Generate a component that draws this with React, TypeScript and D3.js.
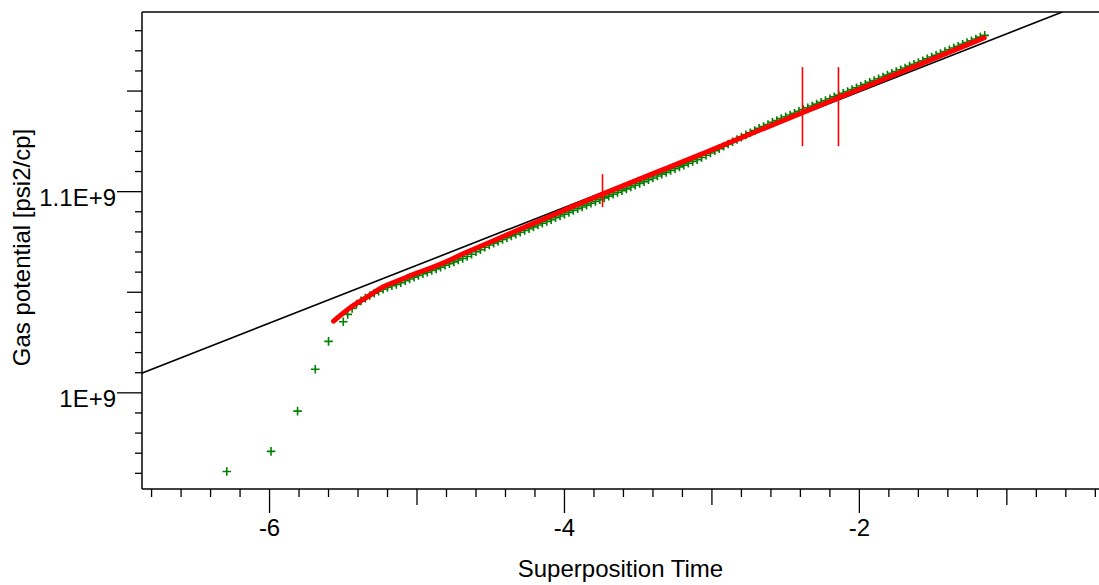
import React from "react";
import * as d3 from "d3";

// ---- data ----
const sparseX = [-6.29, -5.99, -5.81, -5.69, -5.6];
const sparseY = [0.9609, 0.9709, 0.9909, 1.0117, 1.0256];

const denseX = [
  -5.5, -5.47, -5.44, -5.41, -5.38, -5.35, -5.32, -5.29, -5.26, -5.23,
  -5.2, -5.17, -5.14, -5.11, -5.08, -5.05, -5.02, -4.99, -4.96, -4.93,
  -4.9, -4.87, -4.84, -4.81, -4.78, -4.75, -4.72, -4.69, -4.66, -4.63,
  -4.6, -4.57, -4.54, -4.51, -4.48, -4.45, -4.42, -4.39, -4.36, -4.33,
  -4.3, -4.27, -4.24, -4.21, -4.18, -4.15, -4.12, -4.09, -4.06, -4.03,
  -4.0, -3.97, -3.94, -3.91, -3.88, -3.85, -3.82, -3.79, -3.76, -3.73,
  -3.7, -3.67, -3.64, -3.61, -3.58, -3.55, -3.52, -3.49, -3.46, -3.43,
  -3.4, -3.37, -3.34, -3.31, -3.28, -3.25, -3.22, -3.19, -3.16, -3.13,
  -3.1, -3.07, -3.04, -3.01, -2.98, -2.95, -2.92, -2.89, -2.86, -2.83,
  -2.8, -2.77, -2.74, -2.71, -2.68, -2.65, -2.62, -2.59, -2.56, -2.53,
  -2.5, -2.47, -2.44, -2.41, -2.38, -2.35, -2.32, -2.29, -2.26, -2.23,
  -2.2, -2.17, -2.14, -2.11, -2.08, -2.05, -2.02, -1.99, -1.96, -1.93,
  -1.9, -1.87, -1.84, -1.81, -1.78, -1.75, -1.72, -1.69, -1.66, -1.63,
  -1.6, -1.57, -1.54, -1.51, -1.48, -1.45, -1.42, -1.39, -1.36, -1.33,
  -1.3, -1.27, -1.24, -1.21, -1.18, -1.15,
];
const denseY = [
  1.0353, 1.039, 1.0419, 1.0441, 1.0457, 1.0471, 1.0484, 1.0495, 1.0505, 1.0515,
  1.0524, 1.0532, 1.0539, 1.0547, 1.0557, 1.0566, 1.0575, 1.0583, 1.0592, 1.06,
  1.0608, 1.0616, 1.0625, 1.0634, 1.0642, 1.0651, 1.066, 1.0668, 1.0678, 1.0689,
  1.0701, 1.0712, 1.0724, 1.0735, 1.0744, 1.0753, 1.0762, 1.0771, 1.078, 1.0789,
  1.0798, 1.0807, 1.0816, 1.0825, 1.0834, 1.0843, 1.0852, 1.0861, 1.087, 1.0879,
  1.0888, 1.0897, 1.0906, 1.0915, 1.0924, 1.0933, 1.0942, 1.0951, 1.096, 1.0969,
  1.0978, 1.0987, 1.0996, 1.1005, 1.1014, 1.1023, 1.1032, 1.1041, 1.105, 1.1059,
  1.1068, 1.1078, 1.1087, 1.1096, 1.1105, 1.1114, 1.1123, 1.1132, 1.1141, 1.115,
  1.1159, 1.117, 1.1181, 1.1192, 1.1203, 1.1214, 1.1226, 1.1237, 1.1248, 1.1259,
  1.1271, 1.1282, 1.1293, 1.1304, 1.1315, 1.1324, 1.1334, 1.1345, 1.1354, 1.1363,
  1.1372, 1.1381, 1.139, 1.1399, 1.1408, 1.1417, 1.1426, 1.1435, 1.1444, 1.1453,
  1.1462, 1.1471, 1.148, 1.1489, 1.1498, 1.1507, 1.1516, 1.1525, 1.1534, 1.1543,
  1.1552, 1.1561, 1.157, 1.1579, 1.1588, 1.1597, 1.1606, 1.1615, 1.1624, 1.1633,
  1.1642, 1.1651, 1.166, 1.1669, 1.1678, 1.1687, 1.1696, 1.1705, 1.1714, 1.1723,
  1.1732, 1.1741, 1.175, 1.1759, 1.1768, 1.1777,
];

const fitX = [-5.566, -5.458, -5.342, -5.234, -5.119, -5.003, -4.895, -4.78, -4.664, -4.529, -4.034, -3.017, -1.864, -1.153];
const fitY = [1.0356, 1.042, 1.0475, 1.0525, 1.056, 1.0595, 1.0624, 1.0659, 1.0699, 1.0741, 1.0898, 1.1203, 1.155, 1.1765];

const markerX = [-3.742, -2.386, -2.142];
const markerY0 = [1.0923, 1.1226, 1.1226];
const markerY1 = [1.1087, 1.1619, 1.1619];

const lineX = [-6.868, -0.624];
const lineY = [1.0097, 1.1893];

const xTickLabels = [-6, -4, -2];
const yTickValues = [1.0, 1.1];
const yTickLabels = ["1E+9", "1.1E+9"];

// ---- layout ----
const W = 1099;
const H = 585;
const left = 142;
const top = 12;
const bottom = 489;
const right = 1099;
const FONT = "'Liberation Sans', Arial, Helvetica, sans-serif";

export default function App() {
  const x = d3.scaleLinear().domain([-6.865, -0.375]).range([left, right]);
  const y = d3.scaleLinear().domain([0.9522, 1.1893]).range([bottom, top]);

  const xTicks = d3.range(-34, -1).map((i) => i * 0.2);
  const yTicks = d3.range(96, 119).map((i) => i / 100);

  const fitPts: [number, number][] = fitX.map((v, i) => [v, fitY[i]]);
  const fitPath = d3
    .line<[number, number]>()
    .x((d) => x(d[0]))
    .y((d) => y(d[1]))
    .curve(d3.curveMonotoneX)(fitPts) as string;

  const linePts: [number, number][] = lineX.map((v, i) => [v, lineY[i]]);
  const blackPath = d3
    .line<[number, number]>()
    .x((d) => x(d[0]))
    .y((d) => y(d[1]))(linePts) as string;

  const greenPts = [
    ...sparseX.map((v, i) => [v, sparseY[i]]),
    ...denseX.map((v, i) => [v, denseY[i]]),
  ];

  return (
    <svg
      width={W}
      height={H}
      style={{ position: "absolute", left: 0, top: 0, display: "block", background: "#fff" }}
      fontFamily={FONT}
    >
      <defs>
        <clipPath id="plotClip">
          <rect x={left} y={top} width={right - left} height={bottom - top} />
        </clipPath>
      </defs>

      {/* frame */}
      <line x1={left} x2={right} y1={top} y2={top} stroke="#000" strokeWidth={1.5} />
      <line x1={left} x2={right} y1={bottom} y2={bottom} stroke="#000" strokeWidth={1.5} />
      <line x1={left} x2={left} y1={top} y2={bottom} stroke="#000" strokeWidth={1.5} />

      {/* x ticks */}
      {xTicks.map((v, i) => {
        const r = Math.round(v * 10) / 10;
        const isInt = Math.abs(r - Math.round(r)) < 1e-6;
        const labeled = isInt && xTickLabels.includes(Math.round(r));
        const len = labeled ? 24 : isInt ? 16 : 8;
        return (
          <line key={"xt" + i} x1={x(r)} x2={x(r)} y1={bottom} y2={bottom + len} stroke="#000" strokeWidth={1.3} />
        );
      })}
      {xTickLabels.map((v) => (
        <text key={"xl" + v} x={x(v)} y={536} textAnchor="middle" fontSize={24} fill="#000">
          {String(v)}
        </text>
      ))}

      {/* y ticks */}
      {yTicks.map((v, i) => {
        const labeled = yTickValues.some((t) => Math.abs(t - v) < 1e-6);
        const major = Math.abs(v * 100 - 5 * Math.round(v * 20)) < 1e-6;
        const len = labeled ? 25 : major ? 15 : 7;
        return (
          <line key={"yt" + i} x1={left - len} x2={left} y1={y(v)} y2={y(v)} stroke="#000" strokeWidth={1.3} />
        );
      })}
      {yTickValues.map((v, i) => (
        <text key={"yl" + i} x={116} y={y(v) + 14} textAnchor="end" fontSize={24} fill="#000">
          {yTickLabels[i]}
        </text>
      ))}

      {/* axis titles */}
      <text x={620.5} y={577} textAnchor="middle" fontSize={24} fill="#000">
        Superposition Time
      </text>
      <text transform="translate(29.5,247.5) rotate(-90)" textAnchor="middle" fontSize={24} fill="#000">
        Gas potential [psi2/cp]
      </text>

      <g clipPath="url(#plotClip)">
        {/* black straight line */}
        <path d={blackPath} fill="none" stroke="#000" strokeWidth={1.6} />

        {/* green data crosses */}
        {greenPts.map((d, i) => (
          <path
            key={"g" + i}
            transform={`translate(${x(d[0])},${y(d[1])})`}
            d="M-4.3,0H4.3M0,-4.3V4.3"
            stroke="#008000"
            strokeWidth={1.6}
            fill="none"
          />
        ))}

        {/* red model curve */}
        <path d={fitPath} fill="none" stroke="#ff0000" strokeWidth={5} strokeLinecap="round" strokeLinejoin="round" />

        {/* red vertical markers */}
        {markerX.map((v, i) => (
          <line key={"m" + i} x1={x(v)} x2={x(v)} y1={y(markerY0[i])} y2={y(markerY1[i])} stroke="#ff0000" strokeWidth={1.6} />
        ))}
      </g>
    </svg>
  );
}
